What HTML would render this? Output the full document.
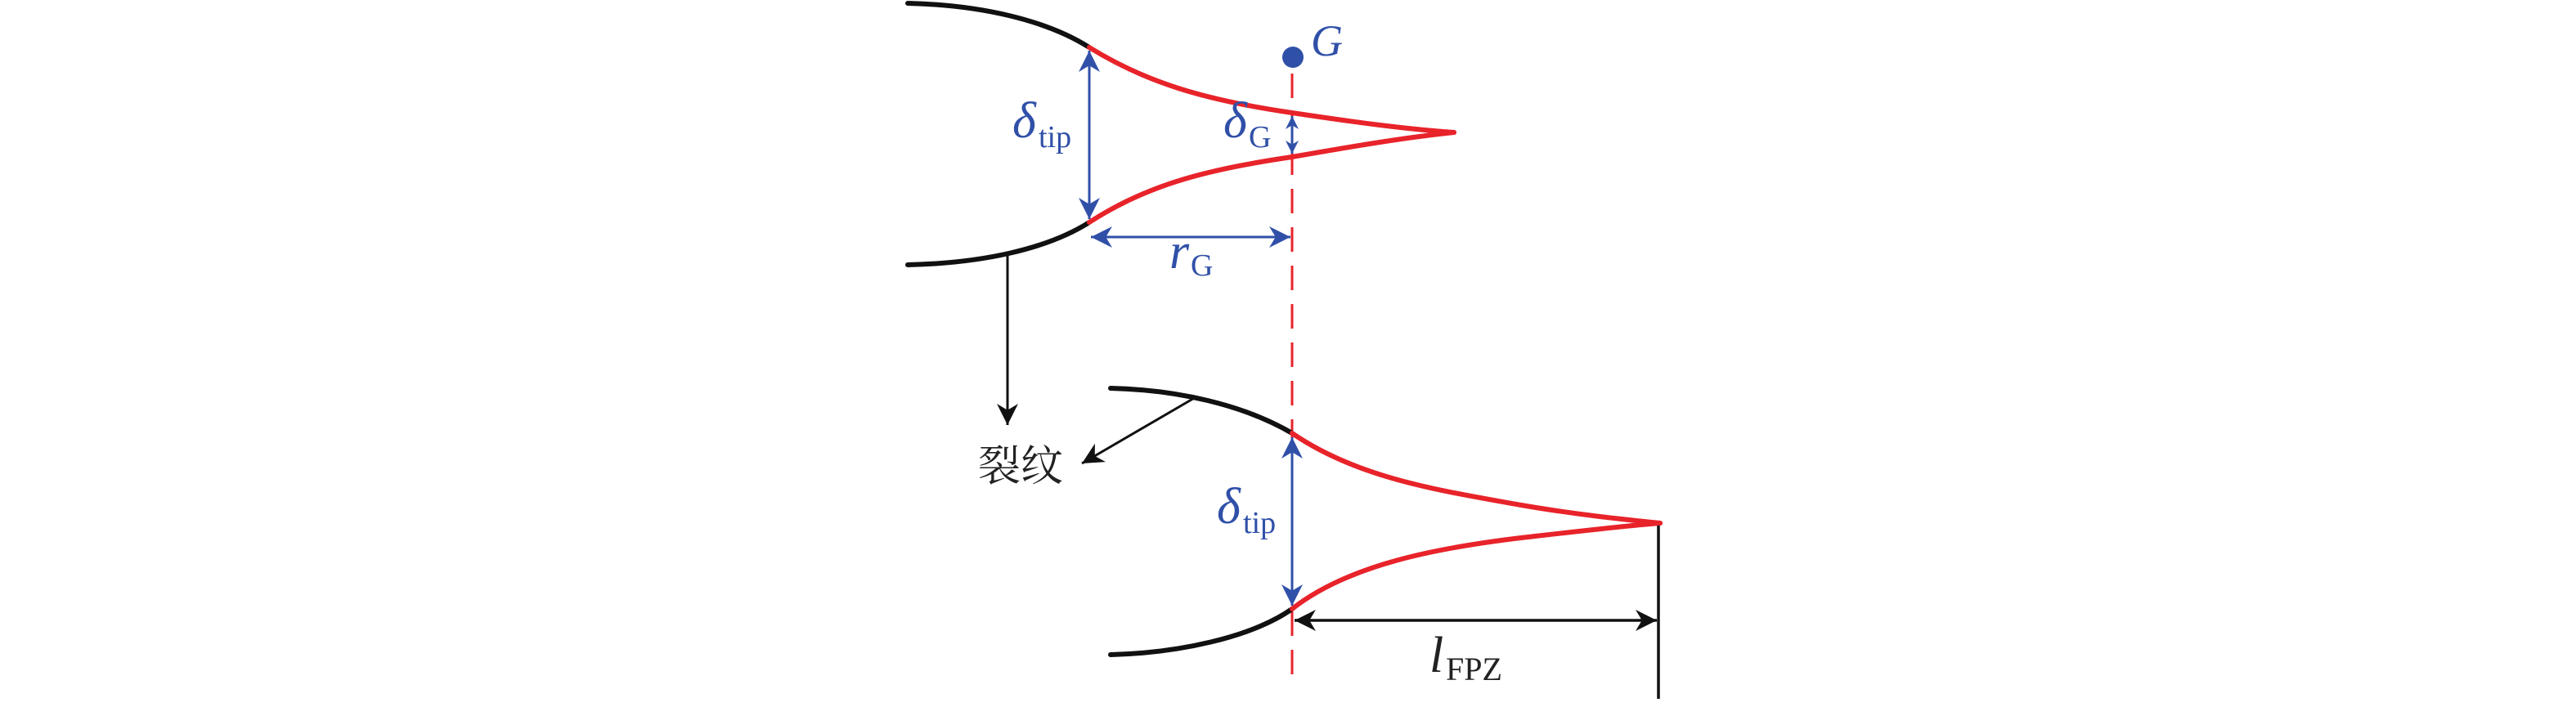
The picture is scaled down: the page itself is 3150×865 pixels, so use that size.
<!DOCTYPE html>
<html><head><meta charset="utf-8"><style>
html,body{margin:0;padding:0;background:#fff;}
svg{display:block;}
text{font-family:"Liberation Serif","Noto Serif CJK SC",serif;}
</style></head><body>
<svg width="3150" height="865" viewBox="0 0 3150 865" xmlns="http://www.w3.org/2000/svg">
<defs>
<marker id="ab" viewBox="0 0 10 10" refX="10" refY="5" markerWidth="28" markerHeight="26" orient="auto-start-reverse" markerUnits="userSpaceOnUse"><path d="M0,0 L10,5 L0,10 L3,5 Z" fill="#3050a8"/></marker>
<marker id="as" viewBox="0 0 10 10" refX="10" refY="5" markerWidth="16" markerHeight="18" orient="auto-start-reverse" markerUnits="userSpaceOnUse"><path d="M0,0 L10,5 L0,10 L3,5 Z" fill="#3050a8"/></marker>
<marker id="ak" viewBox="0 0 10 10" refX="10" refY="5" markerWidth="28" markerHeight="26" orient="auto-start-reverse" markerUnits="userSpaceOnUse"><path d="M0,0 L10,5 L0,10 L3,5 Z" fill="#111"/></marker>
</defs>
<style>
.bk{fill:none;stroke:#111;stroke-width:6;stroke-linecap:round}
.rd{fill:none;stroke:#e8232a;stroke-width:6;stroke-linecap:round}
.bl{stroke:#3050a8;stroke-width:3;fill:none}
</style>
<line x1="1580" y1="90" x2="1580" y2="842" stroke="#e8232a" stroke-width="3" stroke-dasharray="30,17"/>
<path class="bk" d="M1110,4 C1200,6 1280,25 1332,58"/>
<path class="bk" d="M1110,324 C1200,322 1280,305 1332,272"/>
<path class="rd" d="M1332,58 C1400,100 1470,122 1580,138 C1660,150 1720,158 1778,162"/>
<path class="rd" d="M1332,272 C1400,228 1470,208 1580,192 C1660,178 1720,168 1778,162"/>
<circle cx="1581" cy="70" r="13" fill="#3050a8"/>
<text x="1603" y="68" font-size="54" font-style="italic" fill="#3050a8">G</text>
<line class="bl" x1="1332" y1="62" x2="1332" y2="268" stroke-width="3.5" marker-start="url(#ab)" marker-end="url(#ab)"/>
<text x="1238" y="168" font-size="62" font-style="italic" fill="#3050a8">δ</text>
<text x="1270" y="180" font-size="38" fill="#3050a8">tip</text>
<line class="bl" x1="1580" y1="142" x2="1580" y2="188" marker-start="url(#as)" marker-end="url(#as)" stroke-width="3.5"/>
<text x="1496" y="168" font-size="62" font-style="italic" fill="#3050a8">δ</text>
<text x="1527" y="180" font-size="38" fill="#3050a8">G</text>
<line class="bl" x1="1334" y1="290" x2="1578" y2="290" marker-start="url(#ab)" marker-end="url(#ab)" stroke-width="3.5"/>
<text x="1430" y="328" font-size="62" font-style="italic" fill="#3050a8">r</text>
<text x="1456" y="337" font-size="38" fill="#3050a8">G</text>
<line x1="1232" y1="313" x2="1232" y2="520" stroke="#111" stroke-width="3" marker-end="url(#ak)"/>
<line x1="1462" y1="486" x2="1323" y2="567" stroke="#111" stroke-width="3" marker-end="url(#ak)"/>
<text x="1196" y="588" font-size="52" fill="#222" style="font-family:'Noto Serif CJK SC','Noto Sans CJK SC',serif">裂纹</text>
<path class="bk" d="M1358,475 C1440,477 1520,495 1580,530"/>
<path class="bk" d="M1358,801 C1440,799 1530,780 1580,745"/>
<path class="rd" d="M1580,530 C1660,585 1760,600 1860,618 C1930,630 1990,636 2030,640"/>
<path class="rd" d="M1580,745 C1650,690 1760,670 1860,658 C1930,650 1990,643 2030,640"/>
<line class="bl" x1="1580" y1="535" x2="1580" y2="741" marker-start="url(#ab)" marker-end="url(#ab)" stroke-width="3.5"/>
<text x="1488" y="640" font-size="62" font-style="italic" fill="#3050a8">δ</text>
<text x="1520" y="652" font-size="38" fill="#3050a8">tip</text>
<line x1="1583" y1="759" x2="2026" y2="759" stroke="#111" stroke-width="3.5" marker-start="url(#ak)" marker-end="url(#ak)"/>
<line x1="2028" y1="643" x2="2028" y2="855" stroke="#111" stroke-width="3.5"/>
<text x="1748" y="822" font-size="62" font-style="italic" fill="#222">l</text>
<text x="1768" y="832" font-size="40" fill="#222">FPZ</text>
</svg>
</body></html>
